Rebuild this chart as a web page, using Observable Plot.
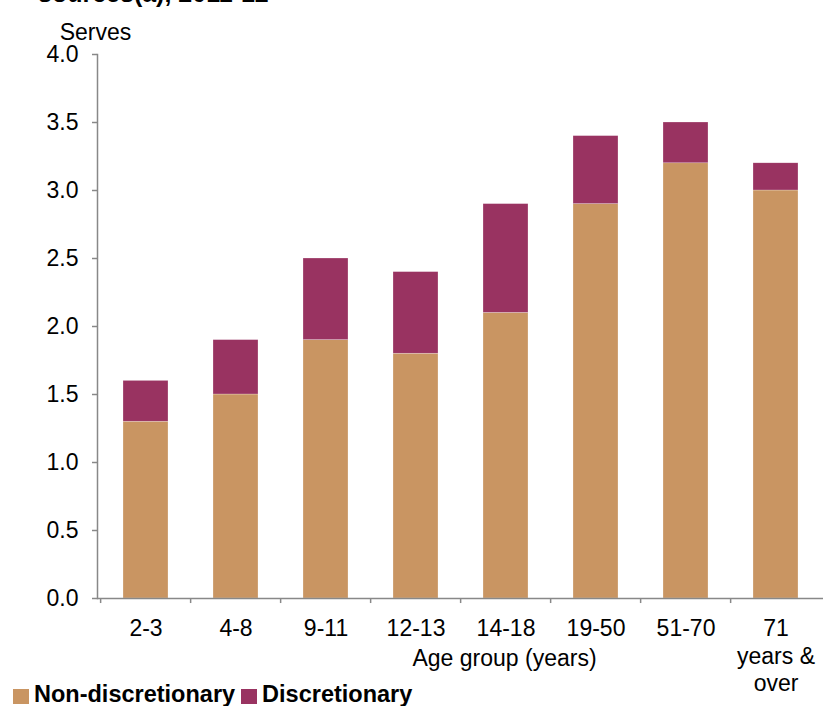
<!DOCTYPE html>
<html><head><meta charset="utf-8">
<script src="https://cdn.jsdelivr.net/npm/d3@7"></script>
<script src="https://cdn.jsdelivr.net/npm/@observablehq/plot@0.6"></script>
<style>
body{margin:0;background:#fff;font-family:"Liberation Sans",Arial,sans-serif;}
#wrap{position:relative;width:823px;height:706px;overflow:hidden;}
#title{position:absolute;left:38px;top:-19px;font-weight:bold;font-size:25px;line-height:25px;color:#000;white-space:nowrap;}
#legend{position:absolute;left:13px;top:682px;font-weight:bold;font-size:23.5px;line-height:24px;color:#000;white-space:nowrap;display:flex;align-items:center;}
#legend span.sw{display:inline-block;width:16px;height:15px;margin-right:5px;margin-top:4px;}
#legend span.item{margin-right:6px;display:flex;align-items:center;}
</style></head>
<body><div id="wrap"><div id="title">sources(a), 2011-12</div><div id="chart"></div>
<div id="legend"></div></div>
<script>
const categories = ["2-3","4-8","9-11","12-13","14-18","19-50","51-70","71 years & over"];
const tickLabels = ["2-3","4-8","9-11","12-13","14-18","19-50","51-70","71\nyears &\nover"];
const nonDiscretionary = [1.3,1.5,1.9,1.8,2.1,2.9,3.2,3.0];
const discretionary = [0.3,0.4,0.6,0.6,0.8,0.5,0.3,0.2];
const seriesNames = ["Non-discretionary","Discretionary"];
const colors = ["#C99562","#993361"];
const yTicks = [0,0.5,1,1.5,2,2.5,3,3.5,4];

const data = [];
categories.forEach((c,i)=>{
  data.push({cat:c, series:seriesNames[0], value:nonDiscretionary[i]});
  data.push({cat:c, series:seriesNames[1], value:discretionary[i]});
});
const W=823,H=706,mL=97,mR=0,mT=54,mB=108;
const bw=(W-mL-mR)/categories.length;
const chart = Plot.plot({
  width:W,height:H,marginLeft:mL,marginRight:mR,marginTop:mT,marginBottom:mB,
  style:{fontFamily:"Liberation Sans, Arial, sans-serif",fontSize:"23px",color:"#000",background:"transparent"},
  x:{domain:categories,paddingInner:0.5,paddingOuter:0.25,align:0.5},
  y:{domain:[0,4]},
  color:{domain:seriesNames,range:colors},
  marks:[
    Plot.barY(data,{x:"cat",y:"value",fill:"series",order:seriesNames,stroke:"#fff",strokeWidth:0.5,strokeOpacity:0.5}),
    Plot.frame({anchor:"left",stroke:"#888",strokeWidth:1.5}),
    Plot.ruleY([0],{stroke:"#888",strokeWidth:1.5}),
    Plot.ruleX(categories,{x:d=>d,y1:0,y2:-0.037,dx:-bw/2,stroke:"#888",strokeWidth:1.5}),
    Plot.axisY({ticks:yTicks,tickFormat:d3.format(".1f"),tickSize:5,tickPadding:14,stroke:"#888",strokeWidth:1.5,label:null,fontSize:23}),
    Plot.axisX({tickSize:0,tickPadding:18,tickFormat:(d)=>tickLabels[categories.indexOf(d)],label:null,lineHeight:1.2,fontSize:23}),
    Plot.text(["Serves"],{frameAnchor:"top-left",dx:-2,dy:-31,text:d=>d,textAnchor:"middle",fontSize:23}),
    Plot.text(["Age group (years)"],{frameAnchor:"bottom-left",dx:504-mL,dy:67,text:d=>d,textAnchor:"middle",fontSize:23,letterSpacing:1})
  ]
});
document.getElementById("chart").appendChild(chart);
const lg=document.getElementById("legend");
seriesNames.forEach((s,i)=>{
  const it=document.createElement("span");it.className="item";
  it.innerHTML=`<span class="sw" style="background:${colors[i]}"></span>${s}`;
  lg.appendChild(it);
});
</script></body></html>
